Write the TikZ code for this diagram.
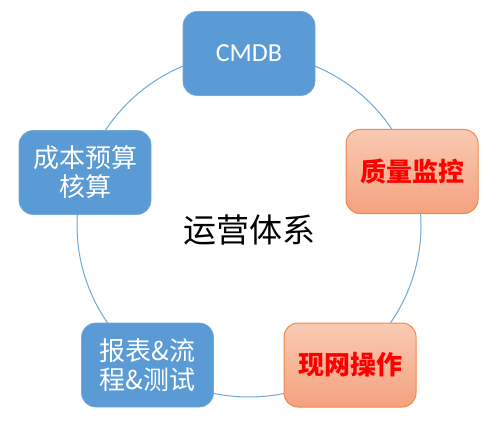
\documentclass[tikz,border=0pt]{standalone}
\usepackage{fontspec}
\setmainfont{Carlito}
\newfontfamily\cjk{Noto Sans CJK SC}
\definecolor{boxblue}{HTML}{5B9BD5}
\definecolor{ringblue}{HTML}{6FA8DC}
\definecolor{orangetop}{HTML}{F9CAB3}
\definecolor{orangebot}{HTML}{F4A27E}
\definecolor{orangeedge}{HTML}{F08A4B}
\tikzset{
  box/.style={rounded corners=14pt, minimum width=132pt, minimum height=84pt, inner sep=2pt, align=center},
  bluebox/.style={box, fill=boxblue, draw=boxblue!85!white, line width=0.6pt, text=white, font=\cjk\fontsize{26}{29}\selectfont},
  orangebox/.style={box, top color=orangetop, bottom color=orangebot, draw=orangeedge, line width=1pt, text=red, font=\cjk\bfseries\fontsize{26}{29}\selectfont},
}
\begin{document}
\begin{tikzpicture}[x=1pt,y=1pt]
\useasboundingbox (0,0) rectangle (500,421);
\fill[white] (0,0) rectangle (500,421);
\coordinate (c) at (249,196);
\draw[ringblue, line width=1pt] (c) circle[radius=172];
\node[bluebox, font=\fontsize{26}{29}\selectfont] (cmdb) at (249,367.5) {CMDB};
\node[orangebox] (zl) at (412,249.5) {质量监控};
\node[orangebox] (xw) at (350,56) {现网操作};
\node[bluebox] (bb) at (147.5,56) {报表\&流\\程\&测试};
\node[bluebox] (cb) at (85,248.5) {成本预算\\核算};
\node[font=\cjk\fontsize{33}{36}\selectfont] (center) at (249,191) {运营体系};
\end{tikzpicture}
\end{document}
